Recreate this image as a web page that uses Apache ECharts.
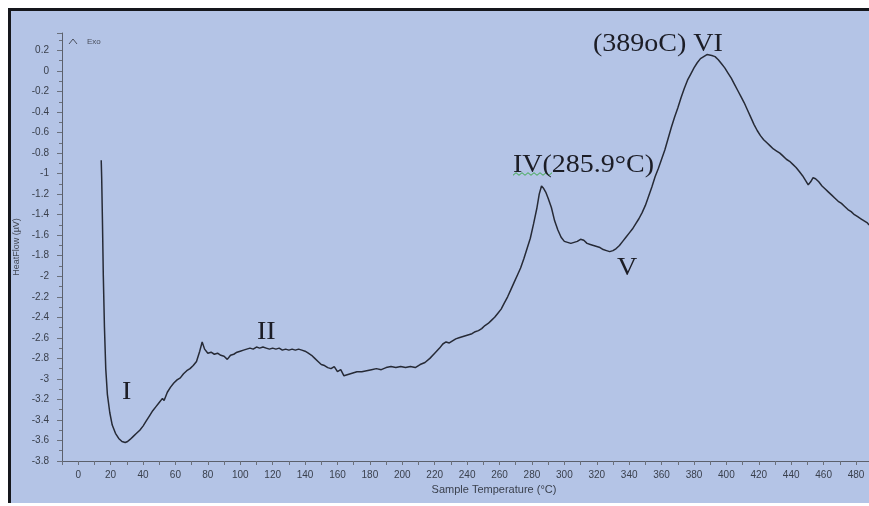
<!DOCTYPE html>
<html>
<head>
<meta charset="utf-8">
<script src="https://cdn.jsdelivr.net/npm/echarts@6/dist/echarts.min.js"></script>
<style>
  html, body { margin: 0; padding: 0; background: #ffffff; }
  #panel {
    position: absolute; left: 8px; top: 8px; width: 861px; height: 495px;
    box-sizing: border-box; border-top: 3px solid #15171c; border-left: 3px solid #15171c;
    background: #b4c4e6;
  }
  #chart { position: absolute; left: 0; top: 0; width: 869px; height: 506px; }
</style>
</head>
<body>
<div id="panel"></div>
<div id="chart"></div>
<script>
// DSC heat-flow trace: [sample temperature (°C), heat flow (µV)]
const heatFlowCurve = [
  [14.2,-0.87],[14.5,-1.05],[15,-1.5],[15.5,-2.0],[16.2,-2.5],[17,-2.9],[18,-3.15],[19.5,-3.33],
  [21,-3.45],[23,-3.53],[25,-3.58],[27,-3.61],[29,-3.62],[30.5,-3.61],[32,-3.59],[34,-3.56],
  [36,-3.53],[38,-3.50],[40,-3.46],[42,-3.41],[44,-3.36],[46,-3.31],[48,-3.27],[50,-3.23],
  [52,-3.19],[53,-3.21],[55,-3.13],[57,-3.08],[59,-3.04],[61,-3.01],[63,-2.99],[65,-2.95],
  [67,-2.92],[69,-2.90],[71,-2.87],[73,-2.83],[75,-2.73],[76.5,-2.64],[78,-2.71],[80,-2.75],
  [82,-2.74],[84,-2.76],[86,-2.75],[88,-2.77],[90,-2.78],[92,-2.81],[94,-2.77],[96,-2.76],
  [98,-2.74],[100,-2.73],[102,-2.72],[104,-2.71],[106,-2.70],[108,-2.71],[110,-2.69],[112,-2.70],
  [114,-2.69],[116,-2.70],[118,-2.71],[120,-2.70],[122,-2.71],[124,-2.70],[126,-2.72],[128,-2.71],
  [130,-2.72],[132,-2.71],[134,-2.72],[136,-2.71],[138,-2.72],[140,-2.73],[142,-2.75],[144,-2.77],
  [146,-2.80],[148,-2.83],[150,-2.86],[152,-2.87],[154,-2.89],[156,-2.90],[158,-2.88],[160,-2.93],
  [162,-2.91],[164,-2.97],[166,-2.96],[168,-2.95],[170,-2.94],[172,-2.93],[175,-2.93],[178,-2.92],
  [181,-2.91],[184,-2.90],[187,-2.91],[190,-2.89],[193,-2.88],[196,-2.89],[199,-2.88],[202,-2.89],
  [205,-2.88],[208,-2.89],[211,-2.86],[214,-2.84],[217,-2.80],[220,-2.75],[223,-2.70],[225,-2.66],
  [227,-2.64],[229,-2.65],[231,-2.63],[233,-2.61],[235,-2.60],[237,-2.59],[239,-2.58],[241,-2.57],
  [243,-2.56],[245,-2.54],[247,-2.53],[249,-2.51],[251,-2.48],[253,-2.46],[255,-2.43],[257,-2.40],
  [259,-2.36],[261,-2.32],[263,-2.26],[265,-2.20],[267,-2.13],[269,-2.06],[271,-1.99],[273,-1.92],
  [275,-1.83],[277,-1.73],[279,-1.63],[281,-1.49],[283,-1.34],[284.5,-1.20],[285.9,-1.12],[287,-1.14],
  [288.5,-1.18],[290,-1.24],[292,-1.33],[294,-1.46],[296,-1.55],[298,-1.62],[300,-1.66],[302,-1.67],
  [304,-1.68],[306,-1.67],[308,-1.66],[310,-1.64],[312,-1.65],[314,-1.68],[316,-1.69],[318,-1.70],
  [320,-1.71],[322,-1.72],[324,-1.74],[326,-1.75],[328,-1.76],[330,-1.75],[332,-1.73],[334,-1.70],
  [336,-1.66],[338,-1.62],[340,-1.58],[342,-1.54],[344,-1.49],[346,-1.44],[348,-1.38],[350,-1.31],
  [352,-1.22],[354,-1.13],[356,-1.03],[358,-0.95],[360,-0.86],[362,-0.77],[364,-0.66],[366,-0.55],
  [368,-0.45],[370,-0.36],[372,-0.26],[374,-0.17],[376,-0.09],[378,-0.03],[380,0.03],[382,0.08],
  [384,0.12],[386,0.14],[388,0.16],[389,0.17],[391,0.15],[393,0.14],[395,0.11],[397,0.07],
  [399,0.03],[401,-0.02],[403,-0.07],[405,-0.13],[407,-0.19],[409,-0.25],[411,-0.31],[413,-0.38],
  [415,-0.45],[417,-0.52],[419,-0.58],[421,-0.63],[423,-0.67],[425,-0.70],[427,-0.73],[429,-0.76],
  [431,-0.78],[433,-0.80],[435,-0.83],[437,-0.86],[439,-0.88],[441,-0.91],[443,-0.94],[445,-0.98],
  [447,-1.02],[449,-1.07],[450.5,-1.11],[452,-1.08],[453.5,-1.04],[455,-1.05],[457,-1.08],[459,-1.12],
  [461,-1.15],[463,-1.18],[465,-1.21],[467,-1.24],[469,-1.27],[471,-1.29],[473,-1.32],[475,-1.35],
  [477,-1.37],[479,-1.40],[481,-1.42],[483,-1.44],[485,-1.46],[487,-1.48],[488,-1.50]
];

// Axis ranges
const tempRange = { min: -10, max: 488, step: 10, labelStep: 20 };
const flowRange = { min: -3.8, max: 0.37, step: 0.2 };

// Peak annotations
const peakNotes = [
  { text: '(389oC) VI',   x: 593, y: 44 },
  { text: 'IV(285.9°C)',  x: 513, y: 165 },
  { text: 'V',            x: 617, y: 268 },
  { text: 'II',           x: 257, y: 332 },
  { text: 'I',            x: 122, y: 392 }
];

const tickFont = { fontFamily: '"Liberation Sans", Arial, sans-serif', fontSize: 10, color: '#3a404d' };

const chart = echarts.init(document.getElementById('chart'), null, { renderer: 'canvas' });

const noteGraphics = peakNotes.map(n => ({
  type: 'text', x: n.x, y: n.y, scaleX: 1.12, z: 10,
  style: {
    text: n.text, font: '25px "Liberation Serif", "Times New Roman", serif',
    fill: '#1c1d26', textAlign: 'left', textVerticalAlign: 'middle'
  }
}));

// wavy spell-check underline beneath "IV"
const wave = [];
for (let i = 0; i <= 13; i++) wave.push([513 + i * 3, 174 + (i % 2 ? -1.3 : 1.3)]);

chart.setOption({
  animation: false,
  grid: { left: 62, top: 33, right: 0, bottom: 45, containLabel: false },
  xAxis: {
    type: 'value', min: tempRange.min, max: tempRange.max, interval: tempRange.step,
    splitLine: { show: false },
    axisLine: { onZero: false, lineStyle: { color: '#5b606c', width: 1 } },
    axisTick: { show: true, length: 4, lineStyle: { color: '#6a707c' } },
    axisLabel: Object.assign({
      margin: 9,
      showMaxLabel: false,
      formatter: v => (v >= 0 && Math.abs(v % tempRange.labelStep) < 1e-6) ? String(Math.round(v)) : ''
    }, tickFont)
  },
  yAxis: {
    type: 'value', min: flowRange.min, max: flowRange.max, interval: flowRange.step,
    name: 'HeatFlow (µV)', nameLocation: 'middle', nameGap: 39,
    nameTextStyle: { fontFamily: '"Liberation Sans", Arial, sans-serif', fontSize: 9, color: '#444a57' },
    splitLine: { show: false },
    axisLine: { show: true, onZero: false, lineStyle: { color: '#5b606c', width: 1 } },
    axisTick: { show: true, length: 5, lineStyle: { color: '#6a707c' } },
    minorTick: { show: true, splitNumber: 2, length: 3, lineStyle: { color: '#6a707c' } },
    axisLabel: Object.assign({
      margin: 13,
      showMaxLabel: false,
      formatter: v => {
        const k = v / flowRange.step;
        if (Math.abs(k - Math.round(k)) > 1e-6) return '';
        return String(parseFloat(v.toFixed(1)));
      }
    }, tickFont)
  },
  series: [{
    type: 'line', data: heatFlowCurve, showSymbol: false, symbol: 'none',
    lineStyle: { color: '#262a36', width: 1.5 }, z: 5
  }],
  graphic: [
    { type: 'polyline', shape: { points: [[69, 44], [73, 39], [77, 44]] }, style: { stroke: '#4a4f5c', lineWidth: 1, fill: null } },
    { type: 'text', x: 87, y: 42, style: { text: 'Exo', font: '8px "Liberation Sans", Arial', fill: '#4a4f5c', textVerticalAlign: 'middle' } },
    { type: 'text', x: 494, y: 490, style: { text: 'Sample Temperature (°C)', font: '11px "Liberation Sans", Arial', fill: '#3a404d', textAlign: 'center', textVerticalAlign: 'middle' } },
    { type: 'polyline', z: 9, shape: { points: wave }, style: { stroke: '#3aa84a', lineWidth: 1, fill: null } }
  ].concat(noteGraphics)
});
</script>
</body>
</html>
